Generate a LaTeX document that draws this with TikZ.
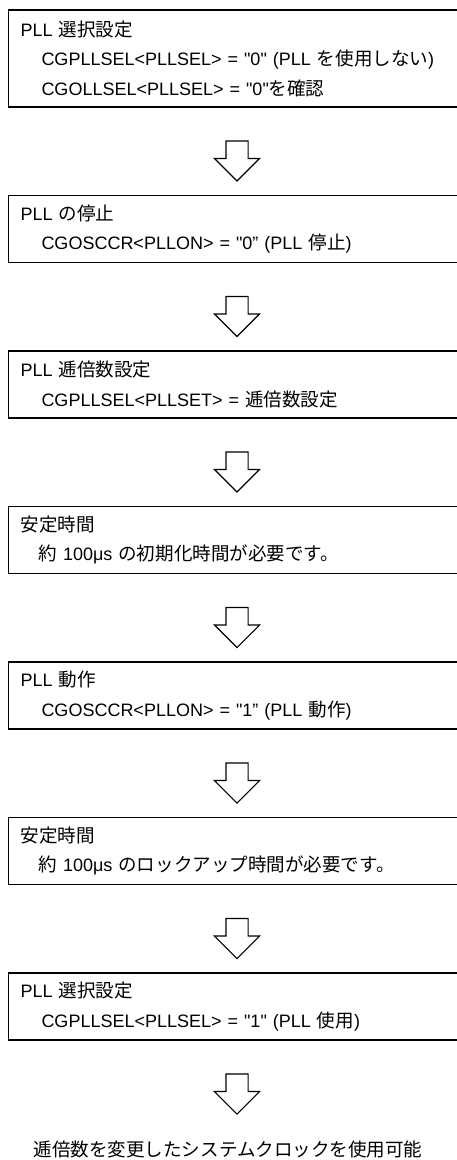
\documentclass[tikz,border=0pt]{standalone}
\usepackage{fontspec}
\setmainfont{Liberation Sans}[Ligatures=TeXOff]
\newfontfamily\jpfont[Scale=1.03]{Noto Sans CJK JP}
\newcommand{\ja}[1]{{\jpfont #1}}
\newcommand{\ind}{\hspace*{21pt}}
\usetikzlibrary{positioning,shapes.arrows}

\begin{document}
\begin{tikzpicture}[
		auto,
		x=1pt, y=1pt,
		font=\fontsize{18pt}{29.5pt}\selectfont,
		stage/.style={
			rectangle,
			draw=black,
			line width=1.1pt,
			align=left,
			text width=433pt,
			inner xsep=12pt,
			outer sep=0pt,
			minimum width=457pt,
			minimum height=67pt,
			fill=white
		},
		flow/.style={
			single arrow,
			draw=black,
			line width=1.1pt,
			shape border rotate=270,
			single arrow head extend=11.5pt,
			minimum height=40pt,
			minimum width=44pt,
			inner sep=10.5pt,
			outer sep=0pt
		}
		]
		\useasboundingbox (0,0) rectangle (456,-1160);
		
		% We start by placing the blocks
		
		\node [stage, minimum height=97pt, anchor=north west] (stage1) at (8.5,-10)
		{%
			PLL \ja{選択設定}\\
			\ind CGPLLSEL<PLLSEL> = "0" (PLL \ja{を使用しない})\\
			\ind CGOLLSEL<PLLSEL> = "0"\ja{を確認}
		};
		
		\node [flow, below=34pt of stage1] (arrow1) {};
		
		\node [stage, below=14.5pt of arrow1] (stage2)
		{%
			PLL \ja{の停止}\\
			\ind CGOSCCR<PLLON> = "0” (PLL \ja{停止})
		};
		
		\node [flow, below=34pt of stage2] (arrow2) {};
		
		\node [stage, below=14.5pt of arrow2] (stage3)
		{%
			PLL \ja{逓倍数設定}\\
			\ind CGPLLSEL<PLLSET> = \ja{逓倍数設定}
		};
		
		\node [flow, below=34pt of stage3] (arrow3) {};
		
		\node [stage, below=14.5pt of arrow3] (stage4)
		{%
			\ja{安定時間}\\
			\hspace*{18pt}\ja{約} 100μs \ja{の初期化時間が必要です。}
		};
		
		\node [flow, below=34pt of stage4] (arrow4) {};
		
		\node [stage, below=14.5pt of arrow4] (stage5)
		{%
			PLL \ja{動作}\\
			\ind CGOSCCR<PLLON> = "1” (PLL \ja{動作})
		};
		
		\node [flow, below=34pt of stage5] (arrow5) {};
		
		\node [stage, below=14.5pt of arrow5] (stage6)
		{%
			\ja{安定時間}\\
			\hspace*{18pt}\ja{約} 100μs \ja{のロックアップ時間が必要です。}
		};
		
		\node [flow, below=34pt of stage6] (arrow6) {};
		
		\node [stage, below=14.5pt of arrow6] (stage7)
		{%
			PLL \ja{選択設定}\\
			\ind CGPLLSEL<PLLSEL> = "1" (PLL \ja{使用})
		};
		
		\node [flow, below=34pt of stage7] (arrow7) {};
		
		\node [below=27pt of arrow7, xshift=-9pt, inner sep=0pt] (result)
		{\ja{逓倍数を変更したシステムクロックを使用可能}};
		
		\end{tikzpicture}
\end{document}
